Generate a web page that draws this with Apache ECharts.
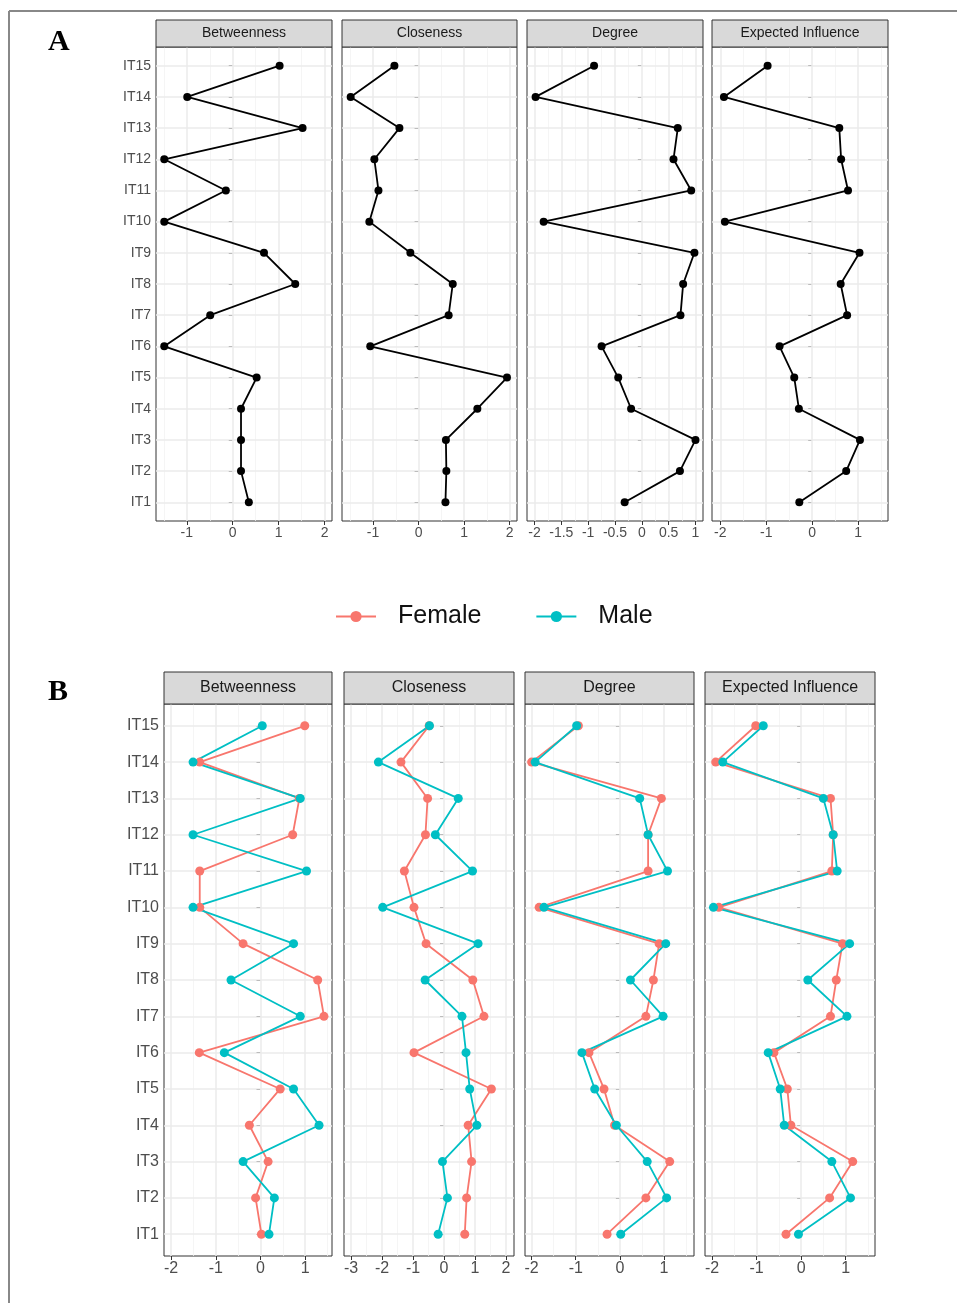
<!DOCTYPE html>
<html>
<head>
    <meta charset="UTF-8">
    <title>Centrality</title>
    <script type="text/javascript" src="https://cdn.jsdelivr.net/npm/echarts@6/dist/echarts.min.js"></script>
    <style>
        body { margin: 0; background: #fff; }
        #main { width: 957px; height: 1303px; }
    </style>
</head>
<body>
<div id="main"></div>
<script>
    // items, bottom to top
    var items = ['IT1','IT2','IT3','IT4','IT5','IT6','IT7','IT8','IT9','IT10','IT11','IT12','IT13','IT14','IT15'];
    var measures = ['Betweenness', 'Closeness', 'Degree', 'Expected Influence'];
    var groups = ['Female', 'Male'];

    // A: whole sample (IT1 .. IT15)
    var aBetweenness = [0.35, 0.18, 0.18, 0.18, 0.52, -1.49, -0.49, 1.36, 0.68, -1.49, -0.15, -1.49, 1.52, -0.99, 1.02];
    var aCloseness   = [0.59, 0.61, 0.60, 1.29, 1.94, -1.06, 0.66, 0.75, -0.18, -1.08, -0.88, -0.97, -0.42, -1.49, -0.53];
    var aDegree      = [-0.32, 0.71, 1.00, -0.20, -0.44, -0.75, 0.72, 0.77, 0.98, -1.83, 0.92, 0.59, 0.67, -1.98, -0.89];
    var aExpected    = [-0.28, 0.74, 1.04, -0.29, -0.39, -0.71, 0.76, 0.62, 1.03, -1.90, 0.78, 0.63, 0.59, -1.92, -0.97];

    // B: by gender (IT1 .. IT15)
    var bBetweennessF = [0.02, -0.11, 0.17, -0.25, 0.44, -1.37, 1.42, 1.28, -0.39, -1.36, -1.36, 0.72, 0.87, -1.36, 0.99];
    var bBetweennessM = [0.19, 0.31, -0.39, 1.31, 0.74, -0.81, 0.89, -0.66, 0.74, -1.51, 1.03, -1.51, 0.89, -1.51, 0.04];
    var bClosenessF   = [0.67, 0.73, 0.89, 0.78, 1.53, -0.97, 1.29, 0.93, -0.58, -0.97, -1.28, -0.60, -0.53, -1.39, -0.48];
    var bClosenessM   = [-0.19, 0.11, -0.05, 1.06, 0.83, 0.71, 0.58, -0.61, 1.10, -1.98, 0.92, -0.28, 0.46, -2.12, -0.47];
    var bDegreeF      = [-0.29, 0.59, 1.13, -0.12, -0.36, -0.70, 0.59, 0.76, 0.89, -1.83, 0.64, 0.64, 0.94, -2.00, -0.94];
    var bDegreeM      = [0.02, 1.06, 0.62, -0.08, -0.57, -0.86, 0.98, 0.24, 1.04, -1.72, 1.08, 0.64, 0.45, -1.92, -0.98];
    var bExpectedF    = [-0.34, 0.64, 1.16, -0.23, -0.31, -0.61, 0.66, 0.79, 0.93, -1.85, 0.69, 0.72, 0.66, -1.92, -1.02];
    var bExpectedM    = [-0.06, 1.11, 0.69, -0.38, -0.47, -0.74, 1.03, 0.15, 1.09, -1.97, 0.81, 0.72, 0.50, -1.76, -0.85];

    // x tick labels
    var aTicks = [[-1, 0, 1, 2], [-1, 0, 1, 2], [-2, -1.5, -1, -0.5, 0, 0.5, 1], [-2, -1, 0, 1]];
    var bTicks = [[-2, -1, 0, 1], [-3, -2, -1, 0, 1, 2], [-2, -1, 0, 1], [-2, -1, 0, 1]];

    var colors = ['#F8766D', '#00BFC4'];
    var font = '"Liberation Sans", Arial, sans-serif';

    // layout of the two facet rows
    var rows = [
        {
            stripTop: 20, top: 47, bottom: 521, font: 14, stripFont: 14, sym: 8, lw: 1.8,
            panels: [[156, 332, -1.67, 2.16], [342, 517, -1.68, 2.16], [527, 703, -2.14, 1.14], [712, 888, -2.18, 1.65]],
            ticks: aTicks,
            data: [[aBetweenness], [aCloseness], [aDegree], [aExpected]]
        },
        {
            stripTop: 672, top: 704, bottom: 1256, font: 16, stripFont: 16, sym: 9, lw: 1.8,
            panels: [[164, 332, -2.16, 1.60], [344, 514, -3.23, 2.26], [525, 694, -2.15, 1.68], [705, 875, -2.16, 1.66]],
            ticks: bTicks,
            data: [[bBetweennessF, bBetweennessM], [bClosenessF, bClosenessM], [bDegreeF, bDegreeM], [bExpectedF, bExpectedM]]
        }
    ];

    var yVals = items.map(function (n, i) { return i + 1; });

    var grid = [], xAxis = [], yAxis = [], series = [], graphic = [];

    rows.forEach(function (row, r) {
        row.panels.forEach(function (p, c) {
            var k = grid.length;
            var ticks = row.ticks[c];
            var step = ticks[1] - ticks[0];
            var minors = [];
            for (var v = ticks[0] - step / 2; v < p[3]; v += step) {
                if (v > p[2]) minors.push(+v.toFixed(3));
            }

            grid.push({
                left: p[0], top: row.top, width: p[1] - p[0], height: row.bottom - row.top,
                show: true, borderColor: '#333', borderWidth: 1, backgroundColor: 'transparent'
            });
            xAxis.push({
                gridIndex: k, type: 'value', min: p[2], max: p[3],
                axisLine: {show: false},
                axisTick: {show: true, length: 4, lineStyle: {color: '#333'}, customValues: ticks},
                axisLabel: {color: '#4d4d4d', fontSize: row.font, fontFamily: font, margin: 5, customValues: ticks,
                    formatter: function (v) { return String(v); }},
                splitLine: {show: false}
            });
            yAxis.push({
                gridIndex: k, type: 'value', min: 0.4, max: 15.6,
                axisLine: {show: false},
                axisTick: {show: true, length: 4, lineStyle: {color: '#333'}, customValues: yVals},
                axisLabel: {show: c === 0, color: '#4d4d4d', fontSize: row.font, fontFamily: font, margin: 5,
                    customValues: yVals, formatter: function (v) { return items[Math.round(v) - 1]; }},
                splitLine: {show: false}
            });

            // panel grid lines
            var lines = [];
            minors.forEach(function (v) { lines.push({xAxis: v, lineStyle: {color: '#f2f2f2', width: 0.8}}); });
            ticks.forEach(function (v) { lines.push({xAxis: v, lineStyle: {color: '#ebebeb', width: 1.5}}); });
            yVals.forEach(function (v) { lines.push({yAxis: v, lineStyle: {color: '#ebebeb', width: 1.5}}); });
            series.push({
                type: 'line', xAxisIndex: k, yAxisIndex: k, data: [], z: 1, silent: true,
                markLine: {z: 1, symbol: ['none', 'none'], silent: true, animation: false, label: {show: false},
                    lineStyle: {type: 'solid'}, emphasis: {disabled: true}, data: lines}
            });

            // strip
            graphic.push({
                type: 'rect', shape: {x: p[0], y: row.stripTop, width: p[1] - p[0], height: row.top - row.stripTop},
                style: {fill: '#d9d9d9', stroke: '#333', lineWidth: 1}, z: 10
            });
            graphic.push({
                type: 'text', x: (p[0] + p[1]) / 2, y: (row.stripTop + row.top) / 2, z: 11,
                style: {text: measures[c], fill: '#1a1a1a', font: row.stripFont + 'px ' + font, align: 'center', verticalAlign: 'middle'}
            });

            var sets = row.data[c];
            sets.forEach(function (vals, g) {
                var pts = vals.map(function (v, i) { return [v, i + 1]; });
                var col = sets.length === 1 ? '#000' : colors[g];
                var name = sets.length === 1 ? undefined : groups[g];
                series.push({
                    type: 'line', name: name, xAxisIndex: k, yAxisIndex: k, data: pts, z: 2,
                    symbol: 'circle', symbolSize: row.sym, showSymbol: false, silent: true,
                    lineStyle: {color: col, width: row.lw}, itemStyle: {color: col}
                });
            });
            sets.forEach(function (vals, g) {
                var pts = vals.map(function (v, i) { return [v, i + 1]; });
                var col = sets.length === 1 ? '#000' : colors[g];
                series.push({
                    type: 'scatter', xAxisIndex: k, yAxisIndex: k, data: pts, z: 3,
                    symbol: 'circle', symbolSize: row.sym, silent: true, itemStyle: {color: col, opacity: 1}
                });
            });
        });
    });

    // frame and panel tags
    graphic.push({type: 'line', shape: {x1: 9, y1: 11, x2: 957, y2: 11}, style: {stroke: '#888', lineWidth: 2}});
    graphic.push({type: 'line', shape: {x1: 9, y1: 11, x2: 9, y2: 1303}, style: {stroke: '#888', lineWidth: 2}});
    graphic.push({type: 'text', x: 48, y: 42, style: {text: 'A', fill: '#000', font: 'bold 30px "Liberation Serif", serif', verticalAlign: 'middle'}});
    graphic.push({type: 'text', x: 48, y: 692, style: {text: 'B', fill: '#000', font: 'bold 30px "Liberation Serif", serif', verticalAlign: 'middle'}});

    var chart = echarts.init(document.getElementById('main'));
    chart.setOption({
        animation: false,
        backgroundColor: '#fff',
        legend: {
            data: groups, left: 330, top: 599, itemWidth: 40, itemHeight: 14, itemGap: 54,
            textStyle: {fontSize: 25, color: '#111', fontFamily: font, padding: [0, 0, 0, 17]}
        },
        grid: grid,
        xAxis: xAxis,
        yAxis: yAxis,
        series: series,
        graphic: graphic
    });
</script>
</body>
</html>
